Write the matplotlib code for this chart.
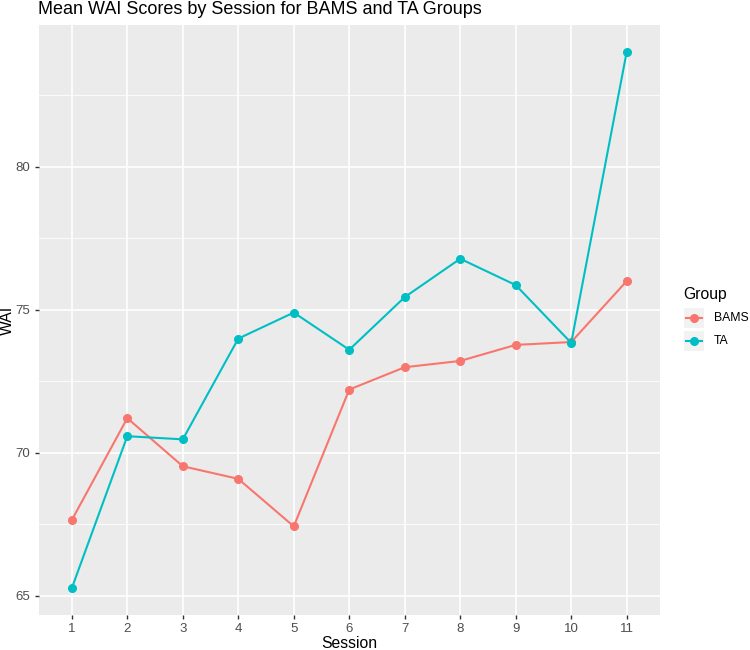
import numpy as np
import matplotlib.pyplot as plt
from matplotlib.patches import Rectangle
from matplotlib.lines import Line2D

plt.rcParams["font.family"] = ["Liberation Sans", "DejaVu Sans"]

# --------------------------------------------------
# data
# --------------------------------------------------
sessions = [1, 2, 3, 4, 5, 6, 7, 8, 9, 10, 11]
bams = [67.65, 71.21, 69.53, 69.09, 67.43, 72.21, 72.99, 73.21, 73.77, 73.87, 76.00]
ta = [65.27, 70.58, 70.47, 73.99, 74.90, 73.60, 75.44, 76.78, 75.86, 73.84, 84.01]
groups = ["BAMS", "TA"]
colors = ["#F8766D", "#00BFC4"]
y_ticks = [65, 70, 75, 80]
y_minor = [67.5, 72.5, 77.5, 82.5]

W, H = 750, 650
fig = plt.figure(figsize=(W / 100, H / 100), dpi=100)

# panel in pixel coords
left, right, top, bottom = 38.5, 660, 25, 615
ax = fig.add_axes([left / W, 1 - bottom / H, (right - left) / W, (bottom - top) / H])
ax.set_facecolor("#EBEBEB")
for s in ax.spines.values():
    s.set_visible(False)

x = np.arange(len(sessions))
for vals, col in zip([bams, ta], colors):
    ax.plot(x, vals, color=col, lw=1.5, marker="o", ms=5.5, zorder=3)

# ggplot-like limits (discrete x: 0.6 expansion, continuous y: 5%)
ax.set_xlim(-0.6, len(sessions) - 1 + 0.6)
lo = min(min(bams), min(ta))
hi = max(max(bams), max(ta))
pad = 0.05 * (hi - lo)
ax.set_ylim(lo - pad, hi + pad)

ax.set_xticks(x)
ax.set_xticklabels([str(s) for s in sessions])
ax.set_yticks(y_ticks)
ax.set_yticks(y_minor, minor=True)
ax.grid(True, which="major", color="white", lw=1.2)
ax.grid(True, which="minor", axis="y", color="white", lw=0.6)
ax.set_axisbelow(True)
ax.tick_params(which="major", colors="#333333", labelcolor="#4D4D4D",
               labelsize=9.5, length=3, width=1, pad=3)
ax.tick_params(which="minor", length=0)

# axis titles placed in pixels
fig.text((left + right) / 2 / W, 1 - 643 / H, "Session", fontsize=11.3,
         ha="center", va="center")
fig.text(7.5 / W, 1 - 320 / H, "WAI", fontsize=11.3, rotation=90,
         ha="center", va="center")

fig.text(left / W, 1 - 14 / H, "Mean WAI Scores by Session for BAMS and TA Groups",
         fontsize=13, ha="left", va="baseline")

# legend drawn by hand, ggplot style
fig.text(683 / W, 1 - 294 / H, "Group", fontsize=11.3, ha="left", va="center")
for i, (g, col) in enumerate(zip(groups, colors)):
    yc = 318 + i * 23
    fig.patches.append(Rectangle((684 / W, 1 - (yc + 10) / H), 20 / W, 20 / H,
                                 transform=fig.transFigure, facecolor="#F2F2F2",
                                 edgecolor="none"))
    fig.lines.append(Line2D([686 / W, 702 / W], [1 - yc / H, 1 - yc / H],
                            transform=fig.transFigure, color=col, lw=1.5))
    fig.lines.append(Line2D([694 / W], [1 - yc / H], transform=fig.transFigure,
                            color=col, marker="o", ms=5.5, lw=0))
    fig.text(714 / W, 1 - yc / H, g, fontsize=8.8, ha="left", va="center")

fig.savefig("out.png", dpi=100)
